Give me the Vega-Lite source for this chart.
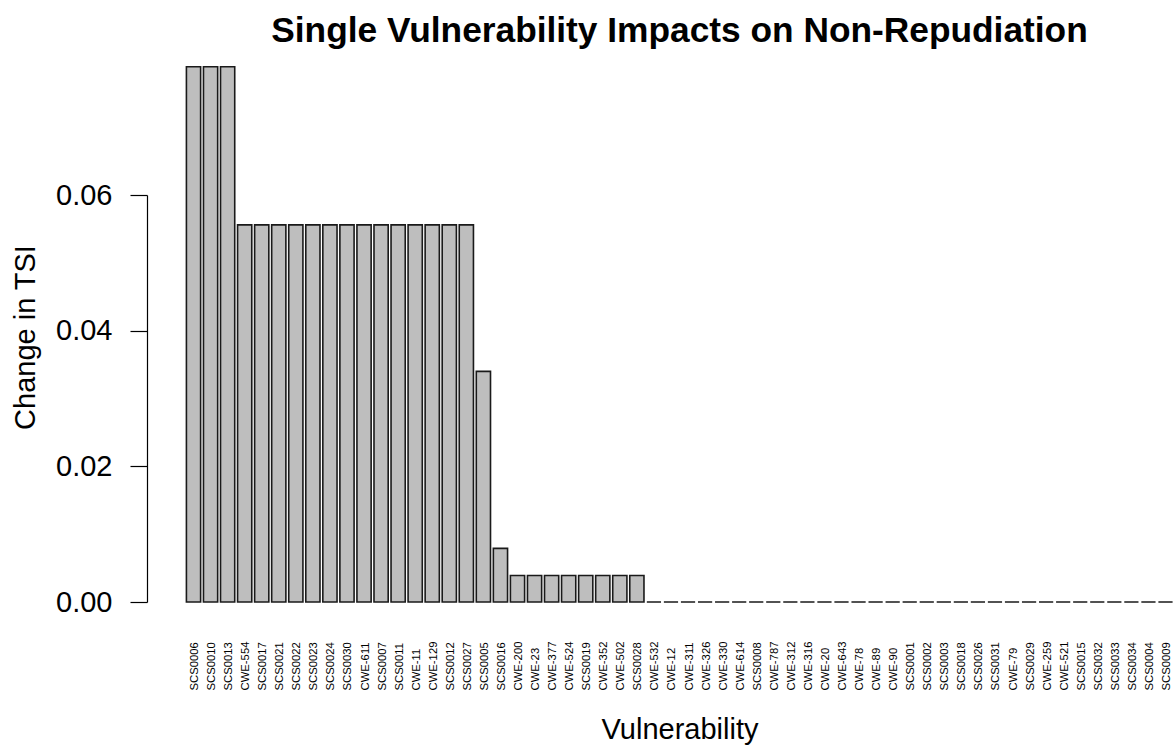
{
  "$schema": "https://vega.github.io/schema/vega-lite/v6.json",
  "autosize": {"type": "none"},
  "padding": {"left": 183, "top": 195, "right": 0, "bottom": 143},
  "width": 993,
  "height": 407,
  "background": "white",
  "config": {
    "view": {"stroke": null},
    "font": "Liberation Sans"
  },
  "title": {
    "text": "Single Vulnerability Impacts on Non-Repudiation",
    "fontSize": 35.3,
    "fontWeight": "bold",
    "font": "Liberation Sans",
    "color": "black",
    "anchor": "middle",
    "frame": "group",
    "baseline": "alphabetic",
    "offset": -11
  },
  "data": {
    "values": [
      {"vuln": "SCS0006", "change": 0.0789},
      {"vuln": "SCS0010", "change": 0.0789},
      {"vuln": "SCS0013", "change": 0.0789},
      {"vuln": "CWE-554", "change": 0.0556},
      {"vuln": "SCS0017", "change": 0.0556},
      {"vuln": "SCS0021", "change": 0.0556},
      {"vuln": "SCS0022", "change": 0.0556},
      {"vuln": "SCS0023", "change": 0.0556},
      {"vuln": "SCS0024", "change": 0.0556},
      {"vuln": "SCS0030", "change": 0.0556},
      {"vuln": "CWE-611", "change": 0.0556},
      {"vuln": "SCS0007", "change": 0.0556},
      {"vuln": "SCS0011", "change": 0.0556},
      {"vuln": "CWE-11", "change": 0.0556},
      {"vuln": "CWE-129", "change": 0.0556},
      {"vuln": "SCS0012", "change": 0.0556},
      {"vuln": "SCS0027", "change": 0.0556},
      {"vuln": "SCS0005", "change": 0.034},
      {"vuln": "SCS0016", "change": 0.0079},
      {"vuln": "CWE-200", "change": 0.0039},
      {"vuln": "CWE-23", "change": 0.0039},
      {"vuln": "CWE-377", "change": 0.0039},
      {"vuln": "CWE-524", "change": 0.0039},
      {"vuln": "SCS0019", "change": 0.0039},
      {"vuln": "CWE-352", "change": 0.0039},
      {"vuln": "CWE-502", "change": 0.0039},
      {"vuln": "SCS0028", "change": 0.0039},
      {"vuln": "CWE-532", "change": 0},
      {"vuln": "CWE-12", "change": 0},
      {"vuln": "CWE-311", "change": 0},
      {"vuln": "CWE-326", "change": 0},
      {"vuln": "CWE-330", "change": 0},
      {"vuln": "CWE-614", "change": 0},
      {"vuln": "SCS0008", "change": 0},
      {"vuln": "CWE-787", "change": 0},
      {"vuln": "CWE-312", "change": 0},
      {"vuln": "CWE-316", "change": 0},
      {"vuln": "CWE-20", "change": 0},
      {"vuln": "CWE-643", "change": 0},
      {"vuln": "CWE-78", "change": 0},
      {"vuln": "CWE-89", "change": 0},
      {"vuln": "CWE-90", "change": 0},
      {"vuln": "SCS0001", "change": 0},
      {"vuln": "SCS0002", "change": 0},
      {"vuln": "SCS0003", "change": 0},
      {"vuln": "SCS0018", "change": 0},
      {"vuln": "SCS0026", "change": 0},
      {"vuln": "SCS0031", "change": 0},
      {"vuln": "CWE-79", "change": 0},
      {"vuln": "SCS0029", "change": 0},
      {"vuln": "CWE-259", "change": 0},
      {"vuln": "CWE-521", "change": 0},
      {"vuln": "SCS0015", "change": 0},
      {"vuln": "SCS0032", "change": 0},
      {"vuln": "SCS0033", "change": 0},
      {"vuln": "SCS0034", "change": 0},
      {"vuln": "SCS0004", "change": 0},
      {"vuln": "SCS0009", "change": 0}
    ]
  },
  "mark": {
    "type": "bar",
    "clip": false,
    "fill": "#bebebe",
    "stroke": "#1a1a1a",
    "strokeWidth": 1.6
  },
  "encoding": {
    "x": {
      "field": "vuln",
      "type": "nominal",
      "sort": null,
      "scale": {"paddingInner": 0.1667, "paddingOuter": 0.2},
      "axis": {
        "title": "Vulnerability",
        "titleFontSize": 29,
        "titleFontWeight": "normal",
        "titleColor": "black",
        "titleBaseline": "alphabetic",
        "titleY": 136,
        "ticks": false,
        "domain": false,
        "labelAngle": -90,
        "labelAlign": "left",
        "labelBaseline": "middle",
        "labelOffset": 1.5,
        "labelPadding": 88,
        "labelFontSize": 11.3,
        "labelColor": "black",
        "labelOverlap": false
      }
    },
    "y": {
      "field": "change",
      "type": "quantitative",
      "scale": {"domain": [0, 0.06], "nice": false, "zero": true},
      "axis": {
        "title": "Change in TSI",
        "titleFontSize": 29,
        "titleFontWeight": "normal",
        "titleColor": "black",
        "titleAngle": -90,
        "titleAlign": "center",
        "titleBaseline": "middle",
        "titleX": -122,
        "titleY": 142,
        "values": [0, 0.02, 0.04, 0.06],
        "format": ".2f",
        "grid": false,
        "offset": 36,
        "domainColor": "black",
        "domainWidth": 1.2,
        "tickColor": "black",
        "tickWidth": 1.2,
        "tickSize": 17,
        "labelPadding": 18,
        "labelFontSize": 29,
        "labelColor": "black"
      }
    }
  }
}
